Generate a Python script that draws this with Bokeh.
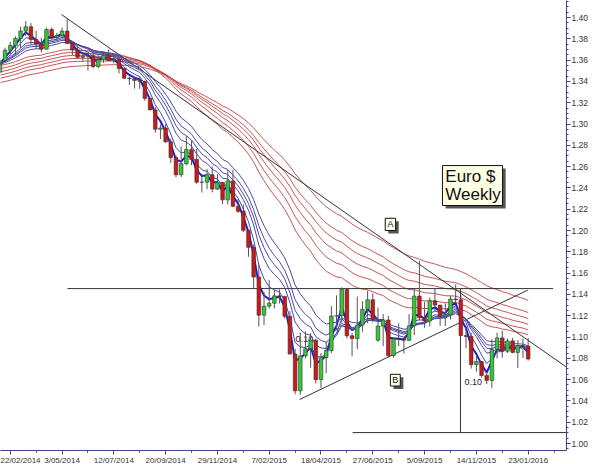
import numpy as np
from bokeh.plotting import figure
from bokeh.models import Range1d, FixedTicker, NumeralTickFormatter
from bokeh.embed import file_html
from bokeh.resources import INLINE
from bokeh.core.properties import value

# ---- weekly EUR/USD candles (week index 0 = week of 3 Feb 2014) ----
opens = [1.3485,1.3594,1.3693,1.3738,1.3804,1.3873,1.3913,1.3793,1.3752,1.3703,1.3887,1.3812,1.3830,
         1.3873,1.3757,1.3696,1.3627,1.3637,1.3642,1.3540,1.3606,1.3644,1.3594,1.3605,1.3522,1.3431,
         1.3426,1.3410,1.3401,1.3240,1.3133,1.2951,1.2962,1.2833,1.2685,1.2524,1.2628,1.2760,1.2668,
         1.2454,1.2454,1.2525,1.2389,1.2452,1.2288,1.2466,1.2228,1.2182,
         1.2002,1.1842,1.1564,1.1205,1.1290,1.1318,1.1387,1.1381,1.1195,1.0840,1.0495,1.0823,1.0890,
         1.0970,1.0600,1.0807,1.0873,1.1198,1.1200,1.1446,1.1012,1.0986,1.1112,1.1260,1.1350,1.0970,
         1.1103,1.1160,1.0826,1.0984,1.0981,1.0970,1.1105,1.1385,1.1183,1.1150,1.1340,1.1300,1.1195,
         1.1210,1.1357,1.1350,1.1014,1.1005,1.0741,1.0770,1.0640,1.0593,1.0884,1.0992,1.0867,1.0964,
         1.0856,1.0919,1.0915]
highs = [1.3620,1.3717,1.3773,1.3824,1.3915,1.3967,1.3947,1.3877,1.3810,1.3905,1.3907,1.3856,1.3906,
         1.3993,1.3770,1.3734,1.3671,1.3670,1.3677,1.3645,1.3679,1.3700,1.3647,1.3618,1.3530,1.3445,
         1.3444,1.3444,1.3408,1.3246,1.3160,1.2994,1.3000,1.2862,1.2704,1.2791,1.2886,1.2846,1.2768,
         1.2532,1.2577,1.2600,1.2530,1.2456,1.2570,1.2570,1.2296,1.2247,
         1.2010,1.1868,1.1680,1.1423,1.1534,1.1443,1.1448,1.1388,1.1244,1.0890,1.1043,1.1052,1.1037,
         1.0985,1.0850,1.0960,1.1290,1.1392,1.1467,1.1450,1.1038,1.1380,1.1338,1.1436,1.1410,1.1278,
         1.1215,1.1199,1.0986,1.1130,1.0995,1.1215,1.1450,1.1714,1.1332,1.1370,1.1460,1.1300,1.1317,
         1.1388,1.1495,1.1390,1.1095,1.1040,1.0830,1.0776,1.0672,1.0981,1.1042,1.1059,1.0987,1.0993,
         1.0970,1.0986,1.0990]
lows = [1.3477,1.3580,1.3642,1.3642,1.3713,1.3827,1.3749,1.3705,1.3673,1.3698,1.3792,1.3787,1.3815,
        1.3753,1.3647,1.3615,1.3586,1.3503,1.3522,1.3524,1.3574,1.3590,1.3569,1.3475,1.3422,1.3367,
        1.3333,1.3330,1.3218,1.3130,1.2919,1.2859,1.2825,1.2634,1.2500,1.2502,1.2613,1.2614,1.2440,
        1.2357,1.2390,1.2358,1.2380,1.2246,1.2245,1.2219,1.2165,1.1985,
        1.1754,1.1460,1.1098,1.1112,1.1270,1.1269,1.1315,1.1174,1.0840,1.0463,1.0457,1.0800,1.0712,
        1.0565,1.0520,1.0660,1.0850,1.1065,1.1135,1.0987,1.0819,1.0887,1.1050,1.1130,1.1136,1.0955,
        1.0915,1.0809,1.0807,1.0915,1.0847,1.0960,1.1017,1.1155,1.1087,1.1100,1.1233,1.1105,1.1103,
        1.1165,1.1327,1.1010,1.0895,1.0704,1.0675,1.0619,1.0558,1.0524,1.0799,1.0806,1.0850,1.0848,
        1.0711,1.0805,1.0778]
closes = [1.3594,1.3693,1.3738,1.3804,1.3873,1.3913,1.3793,1.3752,1.3703,1.3887,1.3812,1.3830,1.3873,
          1.3757,1.3696,1.3627,1.3637,1.3642,1.3540,1.3606,1.3644,1.3594,1.3605,1.3522,1.3431,1.3426,
          1.3410,1.3401,1.3240,1.3133,1.2951,1.2962,1.2833,1.2685,1.2524,1.2628,1.2760,1.2668,1.2454,
          1.2454,1.2525,1.2389,1.2452,1.2288,1.2466,1.2228,1.2182,1.2002,
          1.1842,1.1564,1.1205,1.1290,1.1318,1.1387,1.1381,1.1195,1.0840,1.0495,1.0823,1.0890,1.0970,
          1.0600,1.0807,1.0873,1.1198,1.1200,1.1446,1.1012,1.0986,1.1112,1.1260,1.1350,1.1166,1.1103,
          1.1160,1.0826,1.0984,1.0981,1.0970,1.1105,1.1385,1.1183,1.1150,1.1340,1.1300,1.1195,1.1210,
          1.1357,1.1350,1.1014,1.1005,1.0741,1.0770,1.0640,1.0593,1.0884,1.0992,1.0867,1.0964,1.0856,
          1.0919,1.0915,1.0794]

tick_weeks = [2, 12, 22, 32, 42, 52, 62, 72, 82, 92, 102]
tick_labels = ["22/02/2014", "3/05/2014", "12/07/2014", "20/09/2014", "29/11/2014", "7/02/2015",
               "18/04/2015", "27/06/2015", "5/09/2015", "14/11/2015", "23/01/2016"]
price_ticks = [1.00, 1.02, 1.04, 1.06, 1.08, 1.10, 1.12, 1.14, 1.16, 1.18, 1.20,
               1.22, 1.24, 1.26, 1.28, 1.30, 1.32, 1.34, 1.36, 1.38, 1.40]

# GMMA: short-term (blue) and long-term (red) EMA groups, with starting values
short_periods = [3, 5, 8, 10, 12, 15]
short_start = [1.356, 1.356, 1.357, 1.357, 1.357, 1.356]
long_periods = [30, 35, 40, 45, 50, 60]
long_start = [1.355, 1.352, 1.349, 1.346, 1.343, 1.339]

# annotations (week index, price)
trend_a_x = [11.9, 109.8]
trend_a_y = [1.4028, 1.0704]
trend_b_x = [57.85, 101.9]
trend_b_y = [1.0413, 1.1440]
neck_x = [13.06, 106.8]
neck_y = [1.1455, 1.1455]
target_x = [88.93, 88.93]
target_y = [1.1455, 1.0103]
floor_x = [68.1, 112.1]
floor_y = [1.0103, 1.0103]


def ema(series, period, start):
    a = 2.0 / (period + 1)
    out = [start]
    for c in series[1:]:
        out.append(out[-1] + a * (c - out[-1]))
    return out


weeks = list(range(len(closes)))

p = figure(width=600, height=464, frame_width=566, frame_height=450,
           output_backend="svg", toolbar_location=None,
           x_range=Range1d(0.12, 109.40), y_range=Range1d(0.99347, 1.416),
           y_axis_location="right", min_border_left=0, min_border_top=0,
           min_border_right=0, min_border_bottom=0)
p.grid.visible = False
p.outline_line_color = None
p.background_fill_color = "white"
p.border_fill_color = "white"

axis_col = "#45458a"
for ax in (p.xaxis[0], p.yaxis[0]):
    ax.axis_line_color = axis_col
    ax.major_tick_line_color = axis_col
    ax.minor_tick_line_color = axis_col
    ax.major_tick_out = 4
    ax.major_tick_in = 0
    ax.minor_tick_out = 2
    ax.minor_tick_in = 0
    ax.major_label_text_color = "#333333"
    ax.major_label_text_font = "Liberation Sans"
    ax.major_label_standoff = 1

p.xaxis.ticker = FixedTicker(ticks=tick_weeks, minor_ticks=[w + 5 for w in tick_weeks] + [w - 5 for w in tick_weeks])
p.xaxis.major_label_overrides = {w: l for w, l in zip(tick_weeks, tick_labels)}
p.xaxis.major_label_text_font_size = "8px"
p.yaxis.ticker = FixedTicker(ticks=price_ticks,
                             minor_ticks=[round(0.995 + 0.005 * k, 3) for k in range(85)])
p.yaxis.formatter = NumeralTickFormatter(format="0.00")
p.yaxis.major_label_text_font_size = "8.5px"

# long-term EMAs (red)
for per, st in zip(long_periods, long_start):
    p.line(weeks, ema(closes, per, st), line_color="#c04444", line_width=1, line_alpha=0.9)

# trendline A / neckline / measured move
p.line(trend_a_x, trend_a_y, line_color="#333333", line_width=1)
p.line(neck_x, neck_y, line_color="#333333", line_width=1)
p.line(target_x, target_y, line_color="#333333", line_width=1)
p.line(floor_x, floor_y, line_color="#333333", line_width=1)
p.line(trend_b_x, trend_b_y, line_color="#333333", line_width=1)

# text behind candles
p.text([89.7, 57.1], [1.0575, 1.0985], text=["0.10", "0.10"], text_font=value("Liberation Sans"),
       text_font_size="9px", text_color="#222222", text_baseline="middle")

# short-term EMAs (blue)
for per, st in zip(short_periods, short_start):
    lw = 2 if per == 3 else 1
    col = "#1f1fd0" if per == 3 else "#4a4aa8"
    p.line(weeks, ema(closes, per, st), line_color=col, line_width=lw)

# candles
body_top = [max(o, c) for o, c in zip(opens, closes)]
body_bot = [min(o, c) for o, c in zip(opens, closes)]
colors = ["#35c835" if c >= o else "#cc1818" for o, c in zip(opens, closes)]
p.segment(weeks, lows, weeks, highs, line_color="#555555", line_width=1)
p.vbar(x=weeks, width=0.7, top=body_top, bottom=body_bot, fill_color=colors,
       line_color="#333333", line_width=0.6)

# label boxes
box_l = [85.45, 74.4, 75.4]
box_r = [97.05, 76.4, 77.3]
box_t = [1.2610, 1.2115, 1.0650]
box_b = [1.2235, 1.2000, 1.0540]
p.quad(left=[v + 0.6 for v in box_l], right=[v + 0.6 for v in box_r],
       top=[v - 0.0028 for v in box_t], bottom=[v - 0.0028 for v in box_b],
       fill_color="#555555", line_color=None)
p.quad(left=box_l, right=box_r, top=box_t, bottom=box_b, fill_color="#ffffe6",
       line_color="#111111", line_width=1)
p.text([86.0, 86.0], [1.2595, 1.2425], text=["Euro $", "Weekly"], text_font=value("Liberation Sans"),
       text_font_size="17px", text_color="#111111", text_baseline="top")
p.text([75.4, 76.35], [1.2058, 1.0595], text=["A", "B"], text_font=value("Liberation Sans"),
       text_font_size="9px", text_color="#111111", text_baseline="middle", text_align="center")

open("out.html", "w").write(file_html(p, INLINE))
